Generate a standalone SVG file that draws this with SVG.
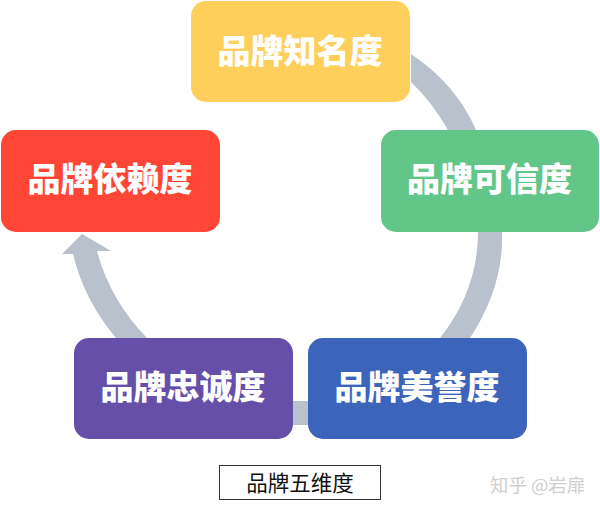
<svg xmlns="http://www.w3.org/2000/svg" width="600" height="509" viewBox="0 0 600 509">
<style>
.n{font-family:"Noto Sans CJK SC","Noto Sans CJK JP",sans-serif;font-size:33px;font-weight:900;fill:#fff;text-anchor:middle}
.c{fill:#b8c1cc}
</style>
<rect width="600" height="509" fill="#fff"/>
<g id="connectors">
<path class="c" d="M411 54Q456 84 476 130L448 130Q432 102 411 82Z"/>
<path class="c" d="M478 232L502 232Q504 286 470 338L440 338Q478 290 478 232Z"/>
<rect class="c" x="292" y="401" width="18" height="24"/>
<path class="c" d="M147 338L116 338Q84 300 73 254L62 254L82 234L111 251L97 251Q110 300 147 338Z"/>
</g>
<g id="node-awareness"><rect x="191" y="1" width="219" height="101" rx="15" fill="#ffcf5c"/><text class="n" x="300" y="63">品牌知名度</text></g>
<g id="node-credibility"><rect x="381" y="130" width="218" height="102" rx="15" fill="#63c689"/><text class="n" x="489.500" y="191">品牌可信度</text></g>
<g id="node-reputation"><rect x="308" y="338" width="219" height="101" rx="15" fill="#3b64ba"/><text class="n" x="417" y="399">品牌美誉度</text></g>
<g id="node-loyalty"><rect x="74" y="338" width="219" height="101" rx="15" fill="#654fa8"/><text class="n" x="183" y="399">品牌忠诚度</text></g>
<g id="node-dependence"><rect x="1" y="130" width="219" height="102" rx="15" fill="#ff4535"/><text class="n" x="110" y="191">品牌依赖度</text></g>
<g id="caption"><rect x="219.500" y="465.500" width="161" height="34" fill="#fff" stroke="#333" stroke-width="1"/><text x="300" y="491" font-family="'Noto Sans CJK SC',sans-serif" font-size="21.500" fill="#111" text-anchor="middle">品牌五维度</text></g>
<g id="watermark"><text x="490" y="492" font-family="'Noto Sans CJK SC',sans-serif" font-size="18.400" fill="#cfcfcf">知乎 @岩扉</text></g>
</svg>
